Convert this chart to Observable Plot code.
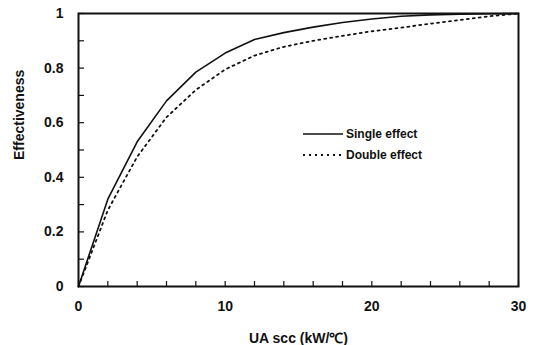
<!DOCTYPE html>
<html>
<head>
<meta charset="utf-8">
<script src="https://cdn.jsdelivr.net/npm/d3@7"></script>
<script src="https://cdn.jsdelivr.net/npm/@observablehq/plot@0.6"></script>
<style>
  html, body { margin: 0; padding: 0; background: #fff; }
  #wrap { position: relative; width: 537px; height: 345px; }
  #legend { position: absolute; left: 303px; top: 123px; font-family: "Liberation Sans", Arial, sans-serif; font-size: 12px; font-weight: bold; color: #111; }
  #legend .row { display: flex; align-items: center; height: 21px; }
  #legend svg { margin-right: 3px; }
</style>
</head>
<body>
<div id="wrap"></div>
<script>
const uaValues = [0, 2, 4, 6, 8, 10, 12, 14, 16, 18, 20, 22, 24, 26, 28, 30];
const singleEffect = [0, 0.32, 0.53, 0.68, 0.785, 0.855, 0.905, 0.93, 0.95, 0.967, 0.98, 0.99, 0.995, 0.997, 0.999, 1.0];
const doubleEffect = [0, 0.28, 0.475, 0.62, 0.72, 0.795, 0.846, 0.878, 0.90, 0.918, 0.935, 0.948, 0.963, 0.976, 0.99, 1.0];
const xTickLabels = [0, 10, 20, 30];
const xMinorTicks = [0, 2, 4, 6, 8, 10, 12, 14, 16, 18, 20, 22, 24, 26, 28, 30];
const yTickLabels = [0, 0.2, 0.4, 0.6, 0.8, 1];
const yMinorTicks = [0, 0.1, 0.2, 0.3, 0.4, 0.5, 0.6, 0.7, 0.8, 0.9, 1];
const seriesNames = ["Single effect", "Double effect"];

const rows = [];
uaValues.forEach((x, i) => {
  rows.push({x, y: singleEffect[i], s: seriesNames[0]});
  rows.push({x, y: doubleEffect[i], s: seriesNames[1]});
});
const fmtY = d => d === 0 || d === 1 ? String(d) : d.toFixed(1);

const W = 537, H = 345, mL = 78, mR = 19, mT = 13, mB = 59;
const plotW = W - mL - mR, plotH = H - mT - mB;

const chart = Plot.plot({
  width: W,
  height: H,
  marginLeft: mL,
  marginRight: mR,
  marginTop: mT,
  marginBottom: mB,
  style: { fontFamily: "'Liberation Sans', Arial, sans-serif", fontSize: "14px", color: "#111", background: "#fff" },
  x: { domain: [0, 30] },
  y: { domain: [0, 1] },
  marks: [
    Plot.tickX(xMinorTicks, { x: d => d, insetTop: plotH - 5, stroke: "#111", strokeWidth: 1.2 }),
    Plot.tickY(yMinorTicks, { y: d => d, insetRight: plotW - 6, stroke: "#111", strokeWidth: 1.2 }),
    Plot.axisX(xTickLabels, { tickSize: 0, tickPadding: 15, fontSize: 14, fontWeight: "bold", label: null }),
    Plot.axisY(yTickLabels, { tickSize: 0, tickPadding: 15, fontSize: 14, fontWeight: "bold", tickFormat: fmtY, label: null }),
    Plot.text(["UA scc (kW/\u2103)"], { frameAnchor: "bottom", dy: 56, fontSize: 14, fontWeight: "bold" }),
    Plot.text(["Effectiveness"], { frameAnchor: "left", dx: -59, dy: 10, rotate: -90, fontSize: 14, fontWeight: "bold" }),
    Plot.line(rows.filter(d => d.s === seriesNames[0]), { x: "x", y: "y", stroke: "#111", strokeWidth: 1.6 }),
    Plot.line(rows.filter(d => d.s === seriesNames[1]), { x: "x", y: "y", stroke: "#111", strokeWidth: 1.8, strokeDasharray: "2,4" }),
    Plot.frame({ stroke: "#111", strokeWidth: 2 })
  ]
});
const wrap = document.getElementById("wrap");
wrap.appendChild(chart);

const legend = document.createElement("div");
legend.id = "legend";
seriesNames.forEach((name, i) => {
  const row = document.createElement("div");
  row.className = "row";
  row.innerHTML = `<svg width="40" height="6"><line x1="0" y1="3" x2="40" y2="3" stroke="#111" stroke-width="${i ? 1.8 : 1.3}" ${i ? 'stroke-dasharray="2,4"' : ''}/></svg><span>${name}</span>`;
  legend.appendChild(row);
});
wrap.appendChild(legend);
</script>
</body>
</html>
